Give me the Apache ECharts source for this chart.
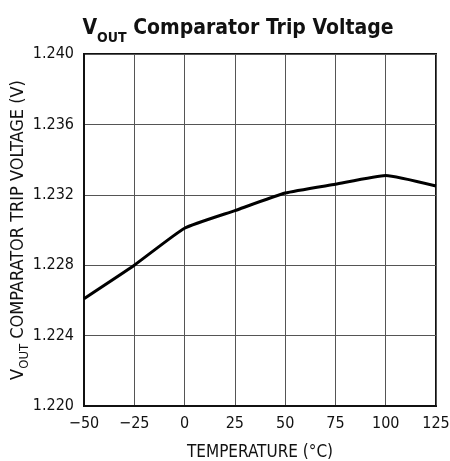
<!DOCTYPE html>
<html><head><meta charset="utf-8">
<script src="https://cdn.jsdelivr.net/npm/echarts@6/dist/echarts.min.js"></script>
<style>html,body{margin:0;padding:0;background:#fff}#c{width:450px;height:461px}</style>
</head><body><div id="c"></div>
<script>
var temperatures = [-50, -25, 0, 25, 50, 75, 100, 125];
var tripVoltage = [1.2261, 1.2280, 1.2301, 1.2311, 1.2321, 1.2326, 1.2331, 1.2325];
var xTicks = [-50, -25, 0, 25, 50, 75, 100, 125];
var yTicks = [1.220, 1.224, 1.228, 1.232, 1.236, 1.240];

var FONT = '"Liberation Sans Narrow", "DejaVu Sans Condensed", sans-serif';
var chart = echarts.init(document.getElementById('c'), null, {renderer: 'canvas'});
var pts = temperatures.map(function (t, i) { return [t, tripVoltage[i]]; });
chart.setOption({
  animation: false,
  backgroundColor: '#fff',
  title: {
    text: '{v|V}{s|OUT}{v| Comparator Trip Voltage}',
    left: 233, top: 8, textAlign: 'center',
    textStyle: {
      rich: {
        v: {fontFamily: FONT, fontWeight: 'bold', fontSize: 21, color: '#111', verticalAlign: 'bottom', lineHeight: 26},
        s: {fontFamily: FONT, fontWeight: 'bold', fontSize: 14, color: '#111', verticalAlign: 'bottom', lineHeight: 20, padding: [0, 0, -6, 0]}
      }
    }
  },
  grid: {left: 84, right: 14, top: 54, bottom: 55, show: true, borderColor: '#111', borderWidth: 2,
    outerBoundsMode: 'none', containLabel: false},
  xAxis: {
    type: 'value', min: -50, max: 125, interval: 25,
    name: 'TEMPERATURE (°C)', nameLocation: 'middle', nameGap: 38, nameMoveOverlap: false,
    nameTextStyle: {fontFamily: FONT, fontSize: 17, color: '#111'},
    axisLine: {show: true, onZero: false, lineStyle: {color: '#111', width: 2}},
    axisTick: {show: false},
    axisLabel: {fontFamily: FONT, fontSize: 16, color: '#111', margin: 10,
      formatter: function (v) { return String(v).replace('-', '\u2212'); }},
    splitLine: {show: true, lineStyle: {color: '#555', width: 1}}
  },
  yAxis: {
    type: 'value', min: 1.220, max: 1.240, interval: 0.004,
    name: '{v|V}{s|OUT}{v| COMPARATOR TRIP VOLTAGE (V)}', nameLocation: 'middle', nameGap: 57, nameRotate: 90,
    nameMoveOverlap: false,
    nameTextStyle: {
      rich: {
        v: {fontFamily: FONT, fontSize: 18, color: '#111', verticalAlign: 'bottom', lineHeight: 20},
        s: {fontFamily: FONT, fontSize: 13, color: '#111', verticalAlign: 'bottom', lineHeight: 16, padding: [0, 0, -4, 0]}
      }
    },
    axisLine: {show: true, onZero: false, lineStyle: {color: '#111', width: 2}},
    axisTick: {show: false},
    axisLabel: {fontFamily: FONT, fontSize: 16, color: '#111', margin: 10,
      formatter: function (v) { return v.toFixed(3); }},
    splitLine: {show: true, lineStyle: {color: '#555', width: 1}}
  },
  series: [{
    type: 'line', data: pts, smooth: 0.15, showSymbol: false,
    lineStyle: {color: '#000', width: 3}
  }]
});
</script></body></html>
